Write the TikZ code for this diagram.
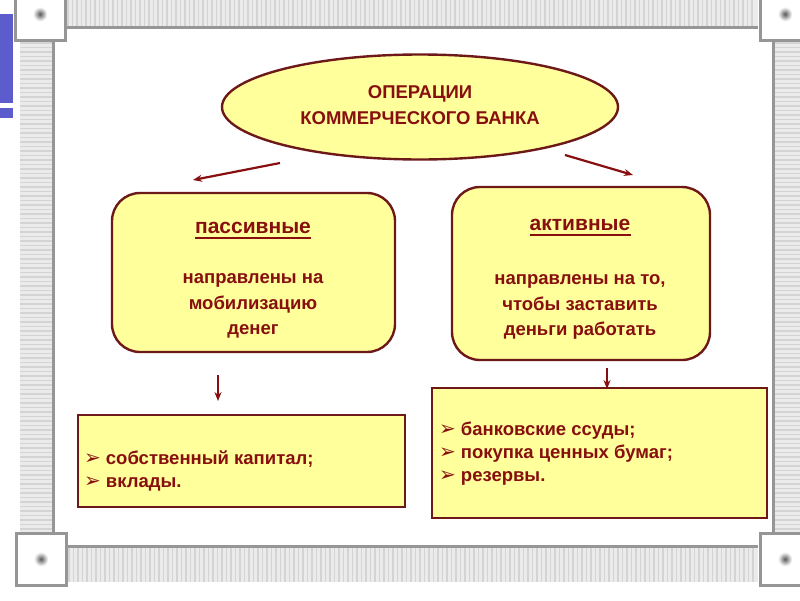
\documentclass[tikz,border=0pt]{standalone}
\usepackage{fontspec}
\setmainfont{Liberation Sans}
\newfontfamily\symfont{DejaVu Sans}
\usetikzlibrary{arrows.meta, positioning, shapes.geometric}

\definecolor{bankred}{RGB}{135,15,15}
\definecolor{bankedge}{RGB}{110,25,25}
\definecolor{bankfill}{RGB}{255,255,155}
\definecolor{framegray}{RGB}{150,150,150}
\definecolor{stripegray}{RGB}{212,212,212}
\definecolor{slideblue}{RGB}{92,92,205}

\newcommand{\pointer}{{\symfont\fontsize{20}{20}\selectfont ➢}\hspace{5pt}}

\begin{document}
\begin{tikzpicture}[
    x=1pt, y=-1pt,
    >=Stealth,
    arr/.style={->, draw=bankred, line width=2.2pt, >={Stealth[length=9pt,width=7pt]}},
    oval/.style={draw=bankedge, fill=bankfill, ellipse, line width=2.4pt,
      minimum width=396pt, minimum height=105pt},
    kind/.style={draw=bankedge, fill=bankfill, rounded corners=28pt, line width=2.4pt},
    listbox/.style={draw=bankedge, fill=bankfill, line width=2.6pt},
    head/.style={text=bankred, inner sep=0pt, font=\bfseries\fontsize{21}{25}\selectfont},
    body/.style={text=bankred, align=center, inner sep=0pt, font=\bfseries\fontsize{18.5}{25.5}\selectfont},
    items/.style={text=bankred, align=left, anchor=west, inner sep=0pt, font=\bfseries\fontsize{18.5}{23}\selectfont},
    corner/.style={draw=framegray, fill=white, line width=3pt},
    edge/.style={draw=framegray, line width=3pt}
  ]
  \useasboundingbox (0,0) rectangle (800,600);

  % Slide frame
  \fill[slideblue] (0,14) rectangle (13,103);
  \fill[slideblue] (0,108) rectangle (13,118);

  \fill[white!92!black] (67,-2) rectangle (758,26);
  \foreach \x in {68,72.5,...,756} \draw[stripegray, line width=1.6pt] (\x,-2) -- (\x,26);
  \draw[edge] (67,27) -- (758,27);

  \fill[white!92!black] (68,548) rectangle (758,582);
  \foreach \x in {69,73.5,...,756} \draw[stripegray, line width=1.6pt] (\x,548) -- (\x,582);
  \draw[edge] (68,546.5) -- (758,546.5);

  \fill[white!92!black] (20,42) rectangle (52,532);
  \foreach \y in {43,47.5,...,530} \draw[stripegray, line width=1.6pt] (20,\y) -- (52,\y);
  \draw[edge] (53.5,42) -- (53.5,532);

  \fill[white!92!black] (775,42) rectangle (800,532);
  \foreach \y in {43,47.5,...,530} \draw[stripegray, line width=1.6pt] (775,\y) -- (800,\y);
  \draw[edge] (773.5,42) -- (773.5,532);

  \foreach \cx/\cy in {40/14, 785/14, 41/559, 785/559} {
    \draw[corner] (\cx-25,\cy-26) rectangle (\cx+25,\cy+26);
    \shade[inner color=black!65, outer color=white] (\cx-7,\cy-7) rectangle (\cx+7,\cy+7);
  }

  % Top oval
  \node[oval] (ops) at (420,107) {};
  \node[body, font=\bfseries\fontsize{18.5}{26}\selectfont] (opsText) at (420,105)
    {ОПЕРАЦИИ\\КОММЕРЧЕСКОГО БАНКА};

  % Passive operations
  \node[kind, minimum width=283pt, minimum height=159pt] (pas) at (253.5,272.5) {};
  \node[head] (pasHead) at (253,228) {пассивные};
  \draw[bankred, line width=2pt] ([yshift=-4.5pt]pasHead.south west) -- ([yshift=-4.5pt]pasHead.south east);
  \node[body] (pasText) at (253,306) {направлены на\\мобилизацию\\денег};

  % Active operations
  \node[kind, minimum width=258pt, minimum height=173pt] (act) at (581,273.5) {};
  \node[head] (actHead) at (580,225) {активные};
  \draw[bankred, line width=2pt] ([yshift=-4.5pt]actHead.south west) -- ([yshift=-4.5pt]actHead.south east);
  \node[body] (actText) at (580,307) {направлены на то,\\чтобы заставить\\деньги работать};

  % Lists
  \node[listbox, minimum width=327pt, minimum height=92pt] (pasList) at (241.5,461) {};
  \node[items] (pasItems) at (84,471) {\pointer собственный капитал;\\\pointer вклады.};

  \node[listbox, minimum width=335pt, minimum height=130pt] (actList) at (599.5,453) {};
  \node[items] (actItems) at (439,454) {\pointer банковские ссуды;\\\pointer покупка ценных бумаг;\\\pointer резервы.};

  % Arrows
  \coordinate (pasFrom) at (280,163);
  \coordinate (pasTo) at (193,180);
  \coordinate (actFrom) at (565,155);
  \coordinate (actTo) at (633,175);
  \coordinate (pasDownFrom) at (218,375);
  \coordinate (pasDownTo) at (218,401);
  \coordinate (actDownFrom) at (607,368);
  \coordinate (actDownTo) at (607,389);
  \draw[arr] (pasFrom) -- (pasTo);
  \draw[arr] (actFrom) -- (actTo);
  \draw[arr] (pasDownFrom) -- (pasDownTo);
  \draw[arr] (actDownFrom) -- (actDownTo);
\end{tikzpicture}
\end{document}
